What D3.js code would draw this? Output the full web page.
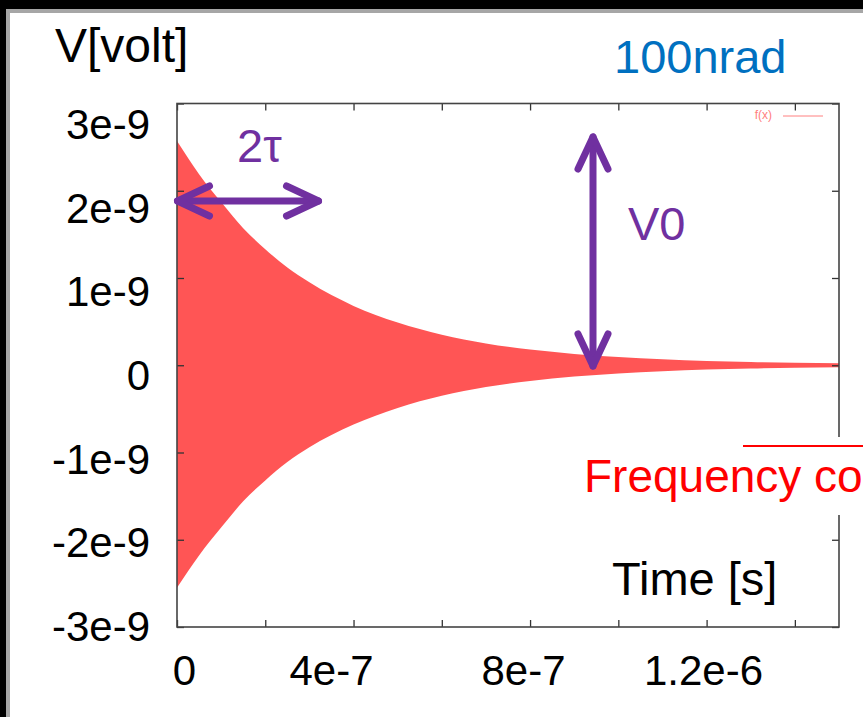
<!DOCTYPE html>
<html>
<head>
<meta charset="utf-8">
<script src="https://cdn.jsdelivr.net/npm/d3@7"></script>
<style>
  html, body { margin: 0; padding: 0; background: #000; }
  svg { display: block; }
  text { font-family: "Liberation Sans", Arial, sans-serif; }
</style>
</head>
<body>
<div id="chart"></div>
<script>
// envelope of the ringing signal
const timeS = [0, 0.5e-7, 1e-7, 1.5e-7, 2e-7, 2.5e-7, 3e-7, 4e-7, 5e-7, 6e-7, 7e-7, 8e-7, 9e-7, 1.0e-6, 1.1e-6, 1.2e-6, 1.3e-6, 1.4e-6, 1.5e-6];
const upperV = [2.57e-9, 2.19e-9, 1.87e-9, 1.57e-9, 1.33e-9, 1.12e-9, 0.95e-9, 0.68e-9, 0.49e-9, 0.35e-9, 0.25e-9, 0.18e-9, 0.13e-9, 0.095e-9, 0.07e-9, 0.05e-9, 0.038e-9, 0.028e-9, 0.022e-9];
const lowerV = [-2.55e-9, -2.18e-9, -1.86e-9, -1.56e-9, -1.32e-9, -1.11e-9, -0.94e-9, -0.68e-9, -0.49e-9, -0.35e-9, -0.25e-9, -0.18e-9, -0.13e-9, -0.095e-9, -0.07e-9, -0.05e-9, -0.038e-9, -0.028e-9, -0.022e-9];

const xTickVals = [0, 2e-7, 4e-7, 6e-7, 8e-7, 1.0e-6, 1.2e-6, 1.4e-6];
const yTickVals = [-3e-9, -2e-9, -1e-9, 0, 1e-9, 2e-9, 3e-9];
const xLabelVals = [0, 4e-7, 8e-7, 1.2e-6];
const xLabelText = ["0", "4e-7", "8e-7", "1.2e-6"];
const yLabelText = ["-3e-9", "-2e-9", "-1e-9", "0", "1e-9", "2e-9", "3e-9"];

const W = 863, H = 717;
const plotL = 177, plotR = 839, plotT = 103.5, plotB = 627;
const purple = "#7030a0";

let svg = d3.select("#chart").append("svg").attr("width", W).attr("height", H);

// slide background
svg.append("rect").attr("width", W).attr("height", H).attr("fill", "#000");
svg.append("rect").attr("x", 6).attr("y", 9).attr("width", W).attr("height", H).attr("fill", "#a6a6a6");
svg.append("rect").attr("x", 10).attr("y", 13).attr("width", W).attr("height", H).attr("fill", "#fff");

let x = d3.scaleLinear().domain([0, 1.5e-6]).range([plotL, plotR]);
let y = d3.scaleLinear().domain([-3e-9, 3e-9]).range([plotB, plotT]);
// the pasted tick labels sit off the gnuplot ticks, placed by hand on the slide
let xLab = d3.scaleLinear().domain(xLabelVals).range([184, 331, 523, 703]);
let yLab = d3.scaleLinear().domain([-3e-9, 3e-9]).range([627, 125]);

// signal band
let band = d3.area()
    .x((d, i) => x(timeS[i]))
    .y0((d, i) => y(lowerV[i]))
    .y1((d, i) => y(upperV[i]))
    .curve(d3.curveMonotoneX);
svg.append("path").datum(timeS).attr("d", band).attr("fill", "#ff5555");

// frame + mirrored ticks
function tidy(g) {
    g.select(".domain").remove();
    g.selectAll(".tick line").attr("stroke", "#333").attr("stroke-width", 1.3);
}
svg.append("g").attr("transform", `translate(0,${plotB})`)
    .call(d3.axisBottom(x).tickValues(xTickVals).tickSize(-7).tickFormat("")).call(tidy);
svg.append("g").attr("transform", `translate(0,${plotT})`)
    .call(d3.axisTop(x).tickValues(xTickVals).tickSize(-7).tickFormat("")).call(tidy);
svg.append("g").attr("transform", `translate(${plotL},0)`)
    .call(d3.axisLeft(y).tickValues(yTickVals).tickSize(-7).tickFormat("")).call(tidy);
svg.append("g").attr("transform", `translate(${plotR},0)`)
    .call(d3.axisRight(y).tickValues(yTickVals).tickSize(-7).tickFormat("")).call(tidy);
svg.append("rect").attr("x", plotL).attr("y", plotT).attr("width", plotR - plotL).attr("height", plotB - plotT)
    .attr("fill", "none").attr("stroke", "#444").attr("stroke-width", 1.6);

// tick labels
let xl = svg.append("g").attr("transform", "translate(0,655)")
    .call(d3.axisBottom(xLab).tickValues(xLabelVals).tickSize(0).tickPadding(0)
        .tickFormat((d, i) => xLabelText[i]));
xl.select(".domain").remove();
xl.selectAll("text").attr("font-size", 42).attr("fill", "#000")
    .attr("font-family", "Liberation Sans, Arial, sans-serif");

let yl = svg.append("g").attr("transform", "translate(150,0)")
    .call(d3.axisLeft(yLab).tickValues(yTickVals).tickSize(0).tickPadding(0)
        .tickFormat((d, i) => yLabelText[i]));
yl.select(".domain").remove();
yl.selectAll("text").attr("font-size", 42).attr("fill", "#000")
    .attr("font-family", "Liberation Sans, Arial, sans-serif");

// titles
svg.append("text").attr("x", 55).attr("y", 62).attr("font-size", 48).text("V[volt]");
svg.append("text").attr("x", 614).attr("y", 73).attr("font-size", 47).attr("fill", "#0070c0").text("100nrad");
svg.append("text").attr("x", 612).attr("y", 595).attr("font-size", 47).text("Time [s]");

// gnuplot key
svg.append("text").attr("x", 772).attr("y", 119).attr("text-anchor", "end")
    .attr("font-family", "DejaVu Sans Mono, monospace").attr("font-size", 12)
    .attr("fill", "#ff8080").text("f(x)");
svg.append("line").attr("x1", 783).attr("x2", 823).attr("y1", 116).attr("y2", 116)
    .attr("stroke", "#ff8080").attr("stroke-width", 1);

// overlapping text box
svg.append("rect").attr("x", 580).attr("y", 437).attr("width", 300).attr("height", 78).attr("fill", "#fff");
svg.append("line").attr("x1", 743).attr("x2", W).attr("y1", 446).attr("y2", 446)
    .attr("stroke", "#ff0000").attr("stroke-width", 2);
svg.append("text").attr("x", 584).attr("y", 492).attr("font-size", 46).attr("fill", "#ff0000").text("Frequency co");

// annotation arrows
function arrow(x1, y1, x2, y2) {
    let g = svg.append("g").attr("stroke", purple).attr("stroke-width", 7)
        .attr("stroke-linecap", "round").attr("stroke-linejoin", "round").attr("fill", "none");
    g.append("line").attr("x1", x1).attr("y1", y1).attr("x2", x2).attr("y2", y2);
    let a = Math.atan2(y2 - y1, x2 - x1), L = 32, S = 15;
    [[x1, y1, a + Math.PI], [x2, y2, a]].forEach(([px, py, th]) => {
        let bx = px - L * Math.cos(th), by = py - L * Math.sin(th);
        let nx = -Math.sin(th) * S, ny = Math.cos(th) * S;
        g.append("path").attr("d", `M${bx + nx},${by + ny}L${px},${py}L${bx - nx},${by - ny}`);
    });
}
arrow(177.5, 201, 318.5, 201);
arrow(593, 137, 593, 366);

svg.append("text").attr("x", 237).attr("y", 162).attr("font-size", 47).attr("fill", purple).text("2τ");
svg.append("text").attr("x", 628).attr("y", 240).attr("font-size", 47).attr("fill", purple).text("V0");
</script>
</body>
</html>
